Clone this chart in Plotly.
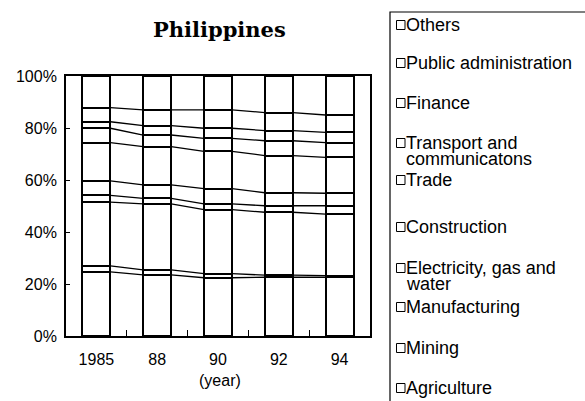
import plotly.graph_objects as go

years = ["1985", "88", "90", "92", "94"]
sectors = ["Agriculture", "Mining", "Manufacturing", "Electricity, gas and<br>water",
           "Construction", "Trade", "Transport and<br>communicatons", "Finance",
           "Public administration", "Others"]
agriculture = [24.7, 23.5, 22.4, 22.6, 22.6]
mining = [2.3, 1.9, 1.6, 0.8, 0.6]
manufacturing = [24.5, 25.4, 24.6, 24.2, 23.7]
electricity = [2.6, 2.1, 2.2, 2.5, 3.2]
construction = [5.6, 5.2, 5.9, 5.0, 4.8]
trade = [14.7, 14.7, 14.3, 14.3, 13.8]
transport = [5.5, 4.5, 5.0, 5.7, 5.7]
finance = [2.5, 3.6, 3.9, 3.9, 3.9]
public_admin = [5.4, 6.1, 7.1, 6.9, 6.7]
others = [12.2, 13.0, 13.0, 14.1, 15.0]
series = [agriculture, mining, manufacturing, electricity, construction,
          trade, transport, finance, public_admin, others]
y_ticks = [0, 20, 40, 60, 80, 100]
y_ticktext = ["0%", "20%", "40%", "60%", "80%", "100%"]

W, H = 585, 401
L, R, T, B = 66, 215, 76, 65
PW, PH = W - L - R, H - T - B
BAR_W = 0.46
FONT = "Liberation Sans, Arial, sans-serif"

def px(x):
    return (x - L) / PW

def py(y):
    return (H - B - y) / PH

fig = go.Figure()
xs = list(range(len(years)))
for name, vals in zip(sectors, series):
    fig.add_trace(go.Bar(x=xs, y=vals, width=BAR_W, name=name,
                         marker=dict(color="white", line=dict(color="black", width=2)),
                         showlegend=False))

# series lines between bars
cum = [0.0] * len(years)
for vals in series[:-1]:
    cum = [c + v for c, v in zip(cum, vals)]
    lx, ly = [], []
    for i in range(len(years) - 1):
        lx += [i + BAR_W / 2, i + 1 - BAR_W / 2, None]
        ly += [cum[i], cum[i + 1], None]
    fig.add_trace(go.Scatter(x=lx, y=ly, mode="lines", line=dict(color="black", width=1.3),
                             showlegend=False, hoverinfo="skip"))

boundaries = [i + 0.5 for i in xs[:-1]]

fig.update_layout(
    width=W, height=H, barmode="stack", bargap=0,
    margin=dict(l=L, r=R, t=T, b=B, autoexpand=False),
    paper_bgcolor="white", plot_bgcolor="white",
    font=dict(family=FONT, size=16, color="black"),
)
fig.update_xaxes(range=[-0.5, len(years) - 0.5], tickvals=xs, ticktext=years,
                 ticks="", showgrid=False, zeroline=False, automargin=False,
                 showline=True, linecolor="black", linewidth=1.8, mirror=True,
                 ticklabelstandoff=8,
                 minor=dict(tickmode="array", tickvals=boundaries, ticks="inside", ticklen=6,
                            tickcolor="black", tickwidth=1.2, showgrid=False))
fig.update_yaxes(range=[0, 100], tickvals=y_ticks, ticktext=y_ticktext,
                 ticks="inside", ticklen=4, tickcolor="black", tickwidth=1.2,
                 showgrid=False, zeroline=False, automargin=False,
                 showline=True, linecolor="black", linewidth=1.8, mirror=True,
                 ticklabelstandoff=4)

# title and axis caption
fig.add_annotation(text="<b>Philippines</b>", x=px(219.5), y=py(30), xref="paper", yref="paper",
                   showarrow=False, xanchor="center", yanchor="middle",
                   font=dict(family="DejaVu Serif, serif", size=21, color="black"))
fig.add_annotation(text="(year)", x=px(220), y=py(380), xref="paper", yref="paper",
                   showarrow=False, xanchor="center", yanchor="middle",
                   font=dict(family=FONT, size=16, color="black"))

# custom legend
fig.add_shape(type="rect", xref="paper", yref="paper", x0=px(390), x1=px(620),
              y0=py(12), y1=py(420), line=dict(color="black", width=1.2),
              fillcolor="rgba(0,0,0,0)")
legend_y = {"Others": 25, "Public administration": 63, "Finance": 103,
            "Transport and<br>communicatons": 143, "Trade": 180, "Construction": 227,
            "Electricity, gas and<br>water": 268, "Manufacturing": 307,
            "Mining": 348, "Agriculture": 388}
for name in sectors[::-1]:
    yc = legend_y[name]
    lines = name.split("<br>")
    fig.add_shape(type="rect", xref="paper", yref="paper", x0=px(396.5), x1=px(405),
                  y0=py(yc - 4.5), y1=py(yc + 4.5), line=dict(color="black", width=1),
                  fillcolor="white")
    for k, ln in enumerate(lines):
        fig.add_annotation(text=ln, x=px(403.5), y=py(yc + 15.5 * k), xref="paper", yref="paper",
                           showarrow=False, xanchor="left", yanchor="middle",
                           font=dict(family=FONT, size=18, color="black"))

fig.write_html("out.html", config={"displayModeBar": False},
               post_script="document.body.style.margin='0px';document.body.style.overflow='hidden';")
